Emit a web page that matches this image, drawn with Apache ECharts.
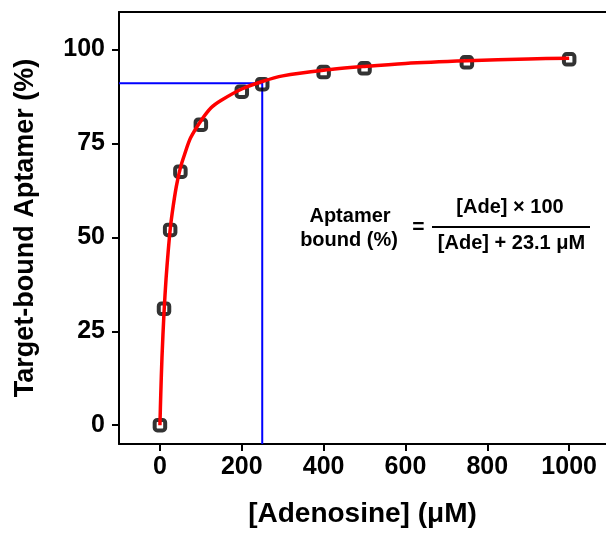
<!DOCTYPE html>
<html><head><meta charset="utf-8">
<script src="https://cdn.jsdelivr.net/npm/echarts@6/dist/echarts.min.js"></script>
<style>html,body{margin:0;padding:0;background:#fff}#c{width:606px;height:533px}</style>
</head><body><div id="c"></div>
<script>
// Measured data points
const adenosine = [0, 10, 25, 50, 100, 200, 250, 400, 500, 750, 1000];
const bound = [0, 31, 52, 67.5, 80, 88.8, 90.8, 94, 95, 96.6, 97.4];
// Red fitted curve
const fitX = [0, 2, 5, 10, 15, 20, 25, 30, 40, 50, 60, 75, 100, 125, 150, 200, 250, 300, 400, 500, 600, 750, 900, 1000];
const fitY = [0, 8, 18, 30, 39, 46, 52, 56.5, 63.5, 68.5, 72, 76.5, 81, 84.5, 86.5, 89.5, 91.5, 93, 94.5, 95.5, 96.3, 97, 97.5, 97.7];
// Blue guide lines
const guideX = [-100, 250, 250];
const guideY = [91, 91, -5];
const xTicks = [0, 200, 400, 600, 800, 1000];
const yTicks = [0, 25, 50, 75, 100];
const xTitle = '[Adenosine] (μM)';
const yTitle = 'Target-bound Aptamer (%)';
const eqLeft = ['Aptamer', 'bound (%)'];
const eqNum = '[Ade] × 100';
const eqDen = '[Ade] + 23.1 μM';

const FF = '"Liberation Sans", Arial, sans-serif';
const chart = echarts.init(document.getElementById('c'), null, {renderer: 'canvas'});
const zip = (a, b) => a.map((v, i) => [v, b[i]]);
const lbl = {color: '#000', fontFamily: FF, fontWeight: 'bold', fontSize: 25, formatter: v => String(v)};

chart.setOption({
  animation: false,
  backgroundColor: '#fff',
  grid: {left: 119, right: 0, top: 12, bottom: 86, show: false, containLabel: false},
  xAxis: [{
    type: 'value', min: -100, max: 1090,
    axisLine: {show: true, onZero: false, lineStyle: {color: '#000', width: 2}},
    axisTick: {show: true, customValues: xTicks, length: 7, lineStyle: {color: '#000', width: 2}},
    axisLabel: Object.assign({customValues: xTicks, margin: 11}, lbl),
    splitLine: {show: false},
    name: xTitle, nameLocation: 'middle', nameGap: 56,
    nameTextStyle: {color: '#000', fontFamily: FF, fontWeight: 'bold', fontSize: 28}
  }, {
    type: 'value', position: 'top', min: -100, max: 1090,
    axisLine: {show: true, onZero: false, lineStyle: {color: '#000', width: 2}},
    axisTick: {show: false}, axisLabel: {show: false}, splitLine: {show: false}
  }],
  yAxis: {
    type: 'value', min: -5, max: 110,
    axisLine: {show: true, onZero: false, lineStyle: {color: '#000', width: 2}},
    axisTick: {show: true, customValues: yTicks, length: 7, lineStyle: {color: '#000', width: 2}},
    axisLabel: Object.assign({customValues: yTicks, margin: 14}, lbl),
    splitLine: {show: false},
    name: yTitle, nameLocation: 'middle', nameGap: 80,
    nameTextStyle: {color: '#000', fontFamily: FF, fontWeight: 'bold', fontSize: 27}
  },
  series: [
    {type: 'line', data: zip(guideX, guideY), symbol: 'none', lineStyle: {color: '#0000ff', width: 2}, z: 2},
    {type: 'scatter', data: zip(adenosine, bound), symbol: 'roundRect', symbolSize: 10.5,
     itemStyle: {color: 'rgba(255,255,255,0)', borderColor: '#000', borderWidth: 4}, z: 3},
    {type: 'line', data: zip(fitX, fitY), symbol: 'none', smooth: 0.3, lineStyle: {color: '#ff0000', width: 3.5}, z: 4}
  ],
  graphic: [
    {type: 'text', x: 350, y: 216, style: {text: eqLeft[0], font: 'bold 20px ' + FF, fill: '#000', textAlign: 'center', textVerticalAlign: 'middle'}},
    {type: 'text', x: 349, y: 240, style: {text: eqLeft[1], font: 'bold 20px ' + FF, fill: '#000', textAlign: 'center', textVerticalAlign: 'middle'}},
    {type: 'text', x: 418.5, y: 227, style: {text: '=', font: 'bold 21px ' + FF, fill: '#000', textAlign: 'center', textVerticalAlign: 'middle'}},
    {type: 'line', shape: {x1: 432, y1: 227, x2: 590, y2: 227}, style: {stroke: '#000', lineWidth: 2}},
    {type: 'text', x: 510, y: 207, style: {text: eqNum, font: 'bold 20px ' + FF, fill: '#000', textAlign: 'center', textVerticalAlign: 'middle'}},
    {type: 'text', x: 511.5, y: 243, style: {text: eqDen, font: 'bold 20px ' + FF, fill: '#000', textAlign: 'center', textVerticalAlign: 'middle'}}
  ]
});
</script></body></html>
